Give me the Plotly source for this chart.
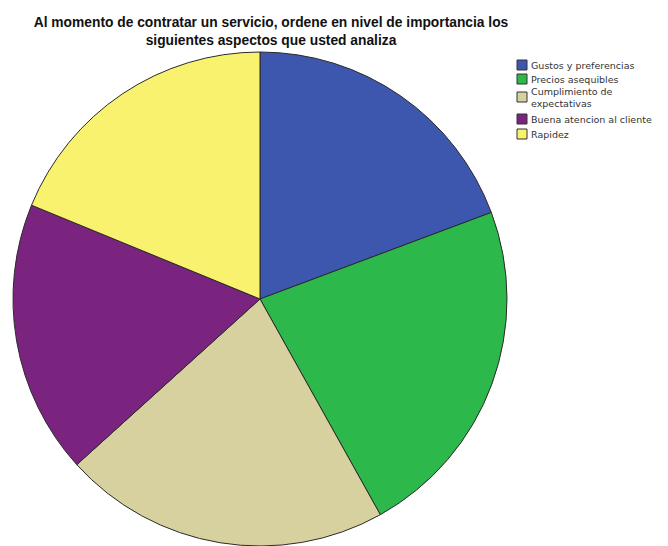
import plotly.graph_objects as go

# Share of each aspect (percent), clockwise from 12 o'clock
aspectos = [
    "Gustos y preferencias",
    "Precios asequibles",
    "Cumplimiento de<br>expectativas",
    "Buena atencion al cliente",
    "Rapidez",
]
porcentajes = [19.3, 22.6, 21.4, 17.9, 18.8]
colores = ["#3E57AE", "#2DB84C", "#D7D1A0", "#7B247F", "#F8F26E"]

W, H = 668, 546

fig = go.Figure(
    go.Pie(
        labels=aspectos,
        values=porcentajes,
        sort=False,
        direction="clockwise",
        rotation=0,
        textinfo="none",
        hoverinfo="label+percent",
        showlegend=False,
        marker=dict(colors=colores, line=dict(color="#2a2a2a", width=1)),
        domain=dict(x=[13 / W, 507 / W], y=[0, 1 - 52 / H]),
    )
)

# Compact legend block at the upper right (pixel rows converted to paper units)
fila_px = [65, 79, 97, 119, 134]
legend_font = dict(family="DejaVu Sans, sans-serif", size=9.5, color="#333")
for etiqueta, color, yp in zip(aspectos, colores, fila_px):
    fig.add_shape(
        type="rect", xref="paper", yref="paper",
        x0=517 / W, x1=527 / W,
        y0=1 - (yp + 5) / H, y1=1 - (yp - 5) / H,
        fillcolor=color, line=dict(color="#333", width=1),
    )
    fig.add_annotation(
        xref="paper", yref="paper",
        x=529 / W, y=1 - yp / H,
        xanchor="left", yanchor="middle", align="left",
        text=etiqueta, showarrow=False, font=legend_font,
    )

fig.update_layout(
    width=W,
    height=H,
    margin=dict(l=0, r=0, t=0, b=0),
    paper_bgcolor="white",
    plot_bgcolor="white",
    title=dict(
        text="<b>Al momento de contratar un servicio, ordene en nivel de importancia los<br>siguientes aspectos que usted analiza</b>",
        x=271 / W,
        xanchor="center",
        y=1 - 27 / H,
        yanchor="top",
        font=dict(family="Liberation Sans, Arial, sans-serif", size=13.8, color="#111"),
    ),
    showlegend=False,
)

fig.write_html("out.html")
